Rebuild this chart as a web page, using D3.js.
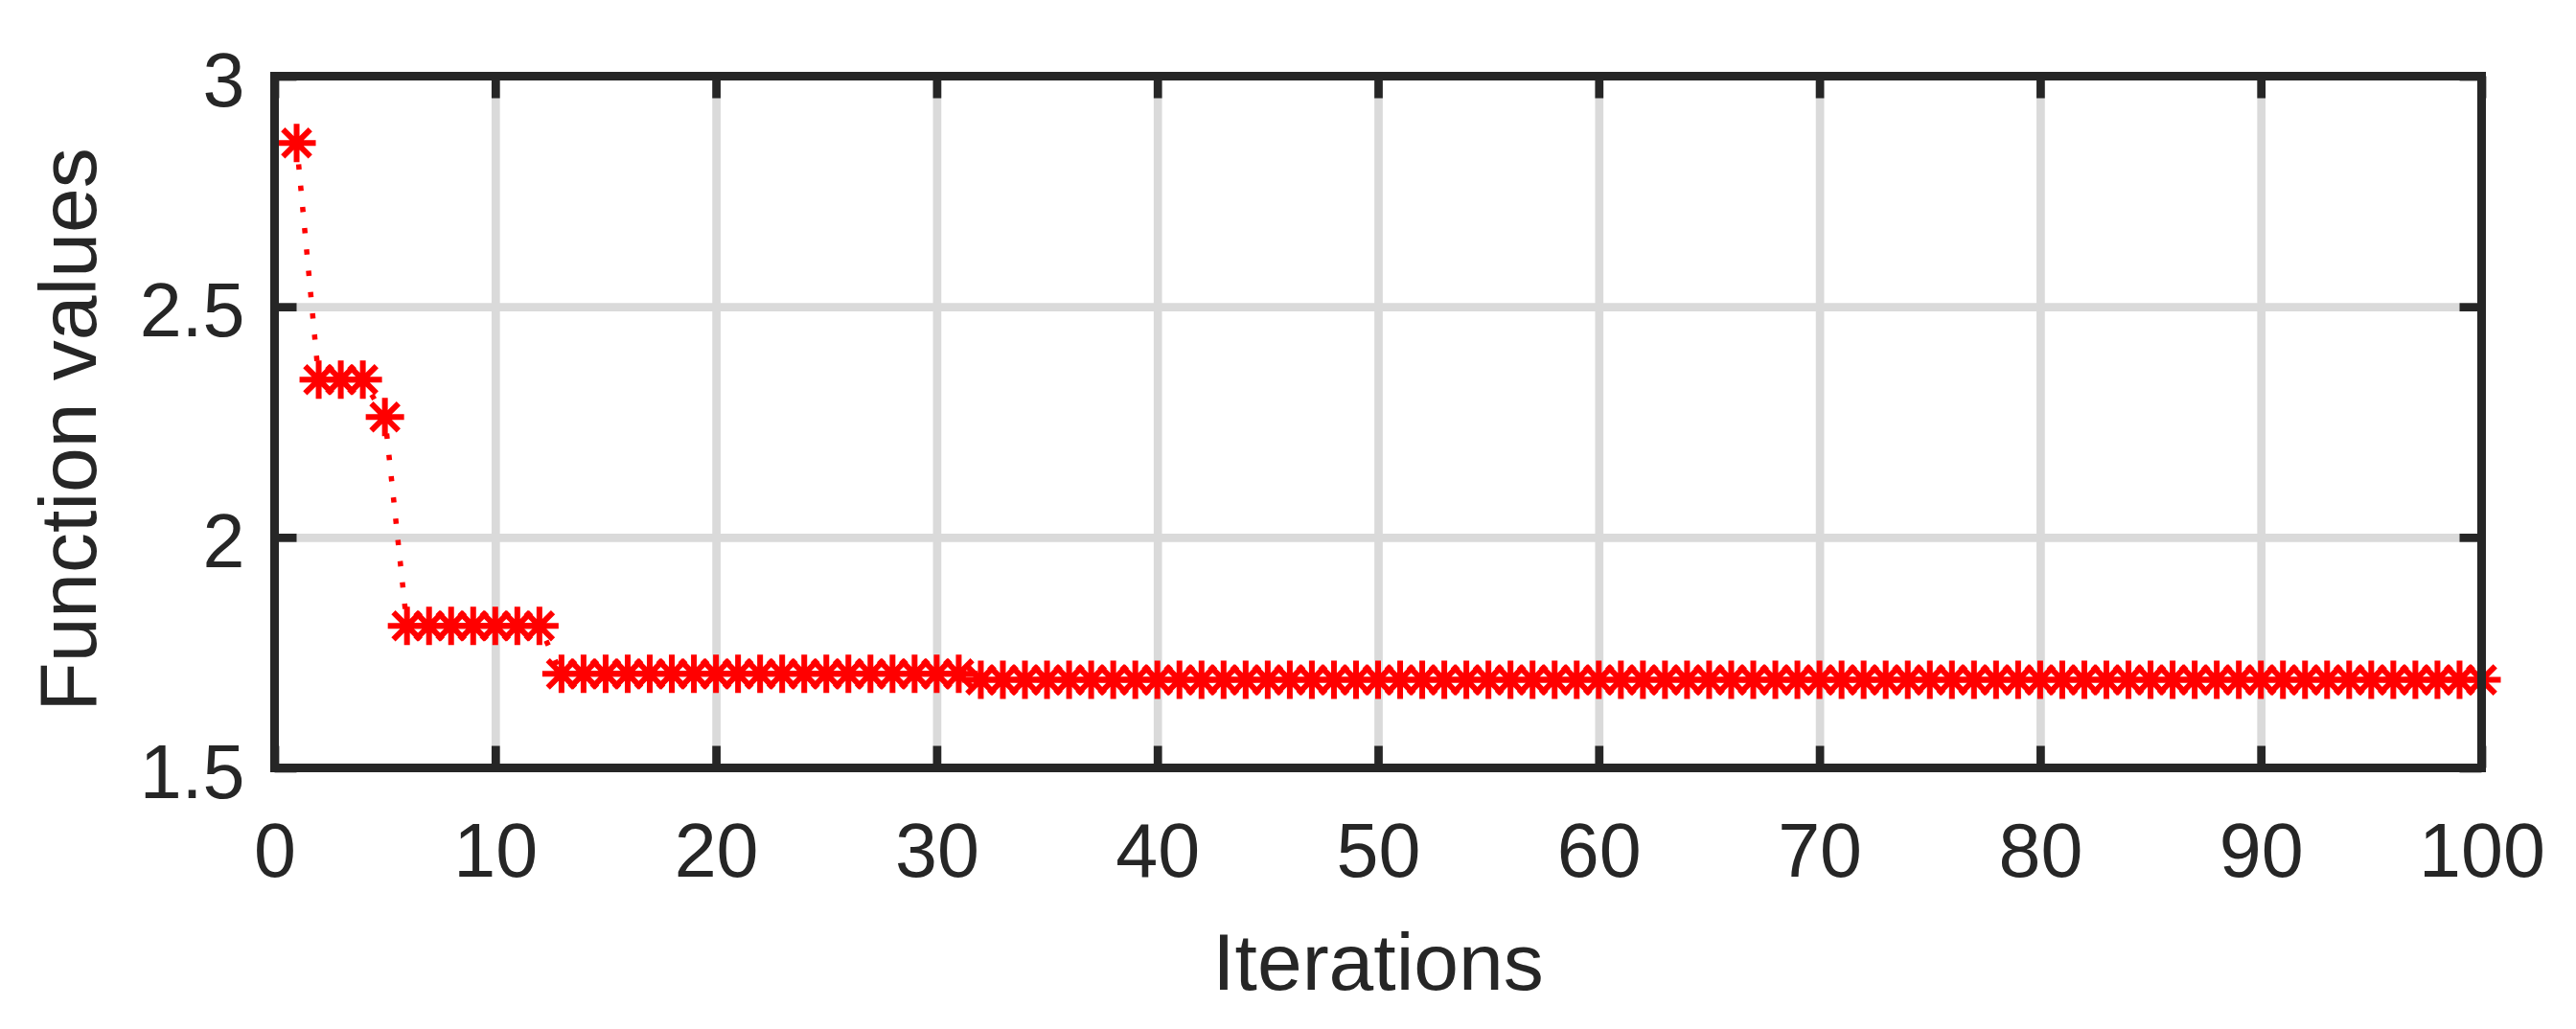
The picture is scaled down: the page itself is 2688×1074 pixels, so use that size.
<!DOCTYPE html>
<html>
<head>
<meta charset="utf-8">
<script src="https://cdn.jsdelivr.net/npm/d3@7"></script>
<style>
  html, body { margin: 0; padding: 0; background: #fff; }
  svg { display: block; }
  text { font-family: "Liberation Sans", Arial, Helvetica, sans-serif; fill: #262626; }
</style>
</head>
<body>
<svg id="chart" width="2688" height="1074"></svg>
<script>
// ---- data ----
const iterations = d3.range(1, 101);
// function value per iteration, grouped as plateaus
const plateauStarts = [1, 2, 5, 6, 13, 32];
const plateauValues = [2.855, 2.342, 2.261, 1.808, 1.704, 1.691];
const functionValues = iterations.map(i => {
  let v = plateauValues[0];
  plateauStarts.forEach((s, k) => { if (i >= s) v = plateauValues[k]; });
  return v;
});
const xTicks = [0, 10, 20, 30, 40, 50, 60, 70, 80, 90, 100];
const yTicks = [1.5, 2, 2.5, 3];
const xLabel = "Iterations";
const yLabel = "Function values";

// ---- layout ----
const pLeft = 286.5, pRight = 2589.5, pTop = 79.5, pBottom = 801.5;
const axisColor = "#262626", gridColor = "#dadada";
const tickFont = 79, labelFont = 84;

const svg = d3.select("#chart");
const x = d3.scaleLinear().domain([0, 100]).range([pLeft, pRight]);
const y = d3.scaleLinear().domain([1.5, 3]).range([pBottom, pTop]);

// grid
const gx = svg.append("g").attr("transform", `translate(0,${pBottom})`)
  .call(d3.axisBottom(x).tickValues(xTicks.slice(1, -1)).tickSize(-(pBottom - pTop)).tickFormat(""));
const gy = svg.append("g").attr("transform", `translate(${pLeft},0)`)
  .call(d3.axisLeft(y).tickValues(yTicks.slice(1, -1)).tickSize(-(pRight - pLeft)).tickFormat(""));
[gx, gy].forEach(g => {
  g.select(".domain").remove();
  g.selectAll("line").attr("stroke", gridColor).attr("stroke-width", 8.7);
});

// dotted connecting line
const line = d3.line().x((d, i) => x(iterations[i])).y(d => y(d));
svg.append("path").datum(functionValues)
  .attr("d", line)
  .attr("fill", "none")
  .attr("stroke", "#ff0000")
  .attr("stroke-width", 5.5)
  .attr("stroke-dasharray", "5.5 16.8");

// asterisk markers
const r = 20, rd = 14.2;
const starPath = `M${-r},0L${r},0M0,${-r}L0,${r}M${-rd},${-rd}L${rd},${rd}M${-rd},${rd}L${rd},${-rd}`;
svg.append("g").selectAll("path").data(functionValues).join("path")
  .attr("transform", (d, i) => `translate(${x(iterations[i])},${y(d)})`)
  .attr("d", starPath)
  .attr("fill", "none")
  .attr("stroke", "#ff0000")
  .attr("stroke-width", 6);

// axes with inward ticks
function styleAxis(g, showText) {
  g.select(".domain").remove();
  g.selectAll(".tick line").attr("stroke", axisColor).attr("stroke-width", 8.7);
  g.selectAll("text").attr("font-size", tickFont).attr("fill", axisColor)
    .style("font-family", '"Liberation Sans", Arial, sans-serif');
  if (!showText) g.selectAll("text").remove();
}
const xb = svg.append("g").attr("transform", `translate(0,${pBottom})`)
  .call(d3.axisBottom(x).tickValues(xTicks).tickSizeInner(-23).tickSizeOuter(0).tickPadding(57).tickFormat(d3.format("d")));
styleAxis(xb, true);
const xt = svg.append("g").attr("transform", `translate(0,${pTop})`)
  .call(d3.axisTop(x).tickValues(xTicks).tickSizeInner(-23).tickSizeOuter(0));
styleAxis(xt, false);
const yl = svg.append("g").attr("transform", `translate(${pLeft},0)`)
  .call(d3.axisLeft(y).tickValues(yTicks).tickSizeInner(-23).tickSizeOuter(0).tickPadding(31).tickFormat(d => String(d)));
styleAxis(yl, true);
yl.selectAll("text").attr("dy", "0.39em");
const yr = svg.append("g").attr("transform", `translate(${pRight},0)`)
  .call(d3.axisRight(y).tickValues(yTicks).tickSizeInner(-23).tickSizeOuter(0));
styleAxis(yr, false);

// box
svg.append("rect")
  .attr("x", pLeft).attr("y", pTop)
  .attr("width", pRight - pLeft).attr("height", pBottom - pTop)
  .attr("fill", "none").attr("stroke", axisColor).attr("stroke-width", 9);

// axis labels
svg.append("text")
  .attr("x", (pLeft + pRight) / 2).attr("y", 1033)
  .attr("text-anchor", "middle").attr("font-size", labelFont)
  .text(xLabel);
svg.append("text")
  .attr("transform", `translate(100,${(pTop + pBottom) / 2 + 8}) rotate(-90)`)
  .attr("text-anchor", "middle").attr("font-size", labelFont)
  .text(yLabel);
</script>
</body>
</html>
